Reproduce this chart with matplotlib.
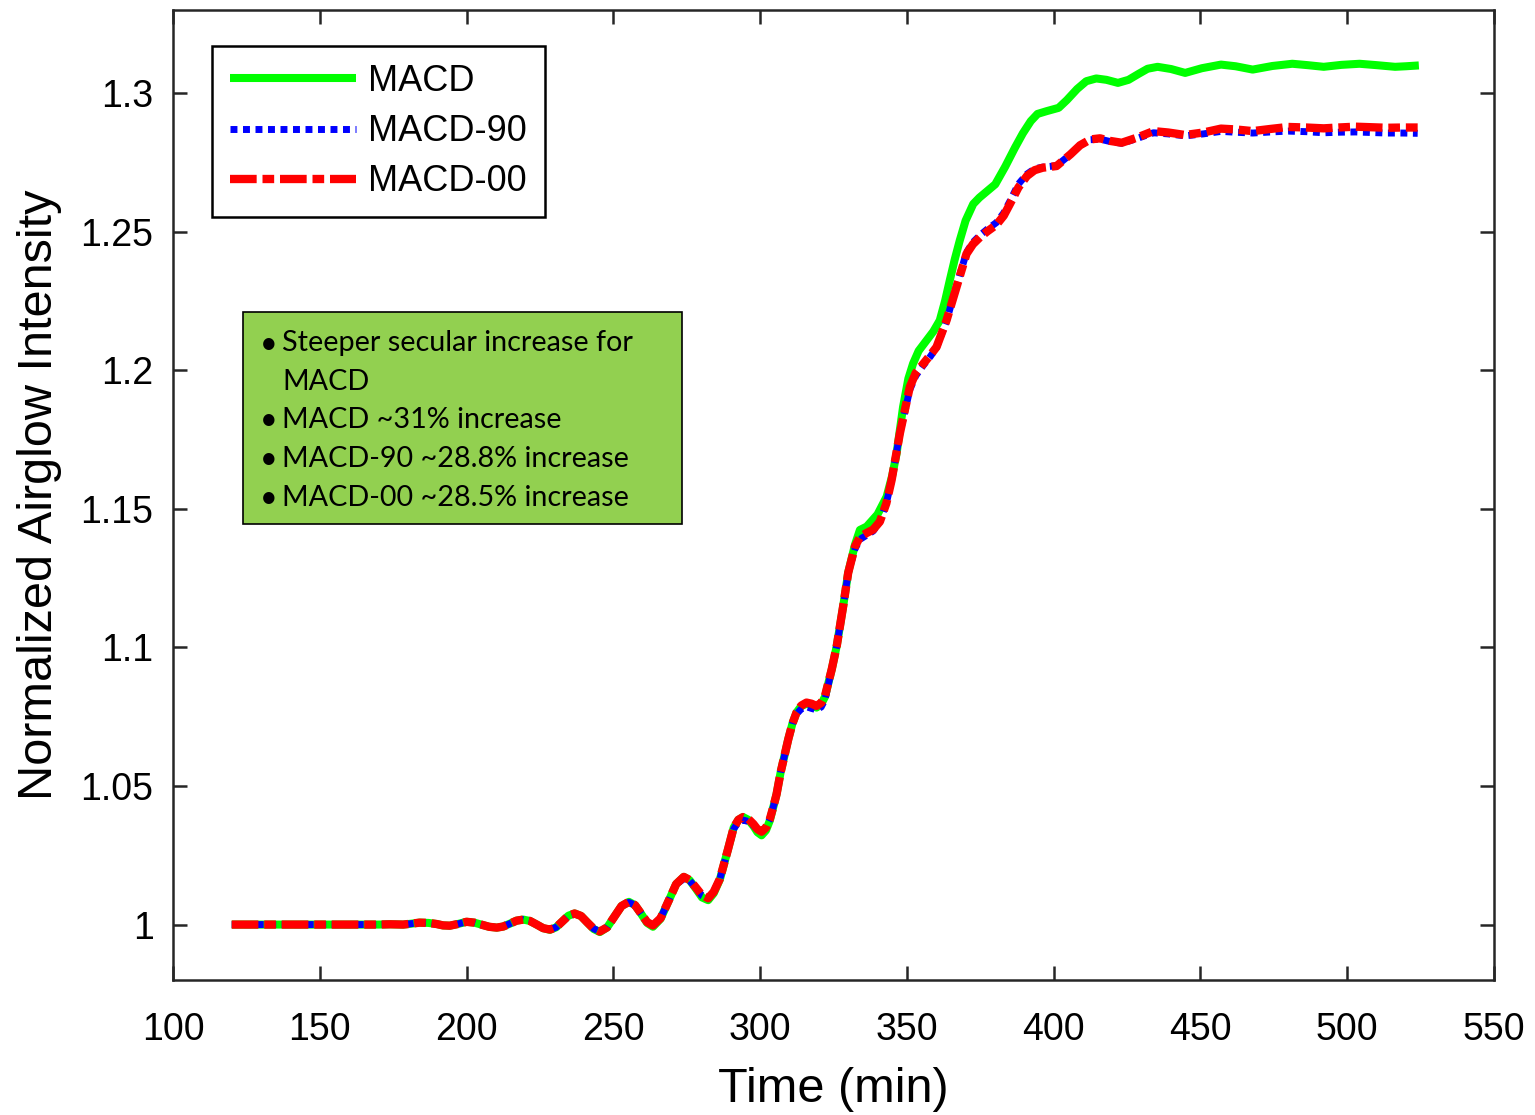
import matplotlib
matplotlib.use("Agg")
import matplotlib.pyplot as plt
from matplotlib.patches import Rectangle

# time (min) and normalized airglow intensity
t_macd00 = [120, 130, 140, 150, 160, 170, 174, 178.4, 181, 184, 187, 189.8, 192, 194.3, 197,
            200, 202.6, 205.2, 207.7, 210.3, 212.5, 214.8, 217, 219.3, 221.6, 223.9, 226.1,
            228.4, 230.5, 232.6, 234.7, 236.8, 239, 241.1, 243.3, 245.4, 247.9, 250.3, 252.8,
            255.3, 257.4, 259.4, 261.5, 263.5, 266.1, 268.8, 271.4, 274, 276, 278.1, 280.2,
            282.3, 284.2, 286.3, 289.1, 291, 292.6, 294.2, 296, 297.7, 299.1, 300.5, 302,
            303.3, 304.5, 305.6, 307, 309.6, 311, 312.4, 314, 315.8, 317.5, 319.2, 320.8,
            322.1, 324.4, 326.1, 328.3, 330, 332.3, 334, 336.3, 338.5, 340.8, 343, 344.8,
            347.6, 351, 353, 355.6, 358, 360.1, 363.5, 366.9, 370.3, 372.5, 374.9, 377.5,
            380.5, 383, 385.1, 388, 390.9, 393.5, 396.3, 401, 405.7, 409, 412.5, 415.8, 419,
            423.2, 428, 434, 439, 444.8, 451, 457, 462, 467.8, 474, 479.9, 486, 492, 497,
            502.8, 508, 513.6, 519, 524]
macd00 = [1.0, 1.0, 1.0, 1.0, 1.0, 1.0, 1.0001, 1.0, 1.0003, 1.0007, 1.0006, 1.0002, 0.9997,
          0.9996, 1.0002, 1.001, 1.0007, 0.99995, 0.9992, 0.9989, 0.9993, 1.00035, 1.0014,
          1.0018, 1.0013, 1.0, 0.9987, 0.9982, 0.999, 1.0011, 1.0032, 1.004, 1.0031, 1.0008,
          0.9985, 0.9975, 0.999, 1.0028, 1.0067, 1.0082, 1.007, 1.004, 1.0009, 0.9997,
          1.0023, 1.0085, 1.0146, 1.0172, 1.0161, 1.0134, 1.0106, 1.0095, 1.0118, 1.0165,
          1.0273, 1.035, 1.0378, 1.0388, 1.0381, 1.0363, 1.0344, 1.0335, 1.035, 1.038,
          1.0425, 1.047, 1.055, 1.0669, 1.0725, 1.0765, 1.079, 1.0801, 1.0797, 1.0789, 1.08,
          1.0825, 1.0921, 1.1005, 1.1149, 1.1269, 1.1364, 1.1398, 1.1413, 1.1425, 1.1454,
          1.152, 1.1604, 1.1772, 1.194, 1.199, 1.2024, 1.2055, 1.2084, 1.218, 1.23, 1.242,
          1.2455, 1.248, 1.2502, 1.2525, 1.2558, 1.26, 1.266, 1.2701, 1.2722, 1.2731, 1.2737,
          1.2779, 1.2812, 1.2833, 1.2837, 1.2828, 1.2821, 1.2838, 1.2863, 1.2858, 1.2849,
          1.2858, 1.2872, 1.2869, 1.2863, 1.2871, 1.2878, 1.2876, 1.2873, 1.2876, 1.2879,
          1.2877, 1.2875, 1.2876, 1.2876]
macd90 = [1.0, 1.0, 1.0, 1.0, 1.0, 1.0, 1.0001, 1.0, 1.0003, 1.0007, 1.0006, 1.0002, 0.9997,
          0.9996, 1.0002, 1.001, 1.0007, 0.99995, 0.9992, 0.9989, 0.9993, 1.00035, 1.0014,
          1.0018, 1.0013, 1.0, 0.9987, 0.9982, 0.999, 1.0011, 1.0032, 1.0039, 1.0031, 1.0008,
          0.9985, 0.9975, 0.999, 1.0028, 1.0067, 1.008, 1.007, 1.004, 1.0009, 0.9997,
          1.0023, 1.0085, 1.0146, 1.0165, 1.0158, 1.0132, 1.0104, 1.0093, 1.0118, 1.0165,
          1.0273, 1.0345, 1.037, 1.0377, 1.0372, 1.0358, 1.0342, 1.0335, 1.035, 1.038,
          1.0425, 1.047, 1.055, 1.0669, 1.0725, 1.076, 1.0778, 1.0786, 1.078, 1.0775, 1.0785,
          1.0812, 1.0921, 1.1005, 1.1149, 1.1269, 1.1355, 1.139, 1.1405, 1.142, 1.1454,
          1.152, 1.1604, 1.1772, 1.193, 1.198, 1.2018, 1.205, 1.2082, 1.2178, 1.2305, 1.2425,
          1.2462, 1.2487, 1.251, 1.2533, 1.2568, 1.261, 1.2672, 1.2708, 1.2727, 1.2733, 1.2738,
          1.2779, 1.2812, 1.2832, 1.2834, 1.2826, 1.2819, 1.2835, 1.2857, 1.2853, 1.2846,
          1.2853, 1.2862, 1.2859, 1.2856, 1.286, 1.2863, 1.2861, 1.2857, 1.2859, 1.286,
          1.2858, 1.2856, 1.2856, 1.2855]
t_macd = [120, 130, 140, 150, 160, 170, 174, 178.4, 181, 184, 187, 189.8, 192, 194.3, 197,
          200, 202.6, 205.2, 207.7, 210.3, 212.5, 214.8, 217, 219.3, 221.6, 223.9, 226.1,
          228.4, 230.5, 232.6, 234.7, 236.8, 239, 241.1, 243.3, 245.4, 247.9, 250.3, 252.8,
          255.3, 257.4, 259.4, 261.5, 263.5, 266.1, 268.8, 271.4, 274, 276, 278.1, 280.2,
          282.3, 284.2, 286.3, 289.1, 291, 292.6, 294.2, 296, 297.7, 299.1, 300.5, 302,
          303.3, 304.5, 305.6, 307, 309.6, 311, 312.4, 314, 315.8, 317.5, 319.2, 320.8,
          322.1, 324.4, 326.1, 328.3, 330, 332.3, 334, 336.3, 340, 343.1, 345, 346.5, 348.7,
          350.5, 352.1, 354, 356.7, 359, 361.2, 363, 364.6, 366.3, 368, 370, 372.6, 374.7,
          377.5, 380.1, 383.5, 386.8, 389.5, 392.2, 394.5, 397.6, 401.7, 404.5, 408, 411.1,
          414.5, 418, 421.9, 425.5, 429, 432, 435.4, 440, 444.8, 450.5, 457, 462, 467.8,
          474.5, 481.3, 486.5, 492, 498, 504.2, 510, 516.3, 520, 524.4]
macd = [1.0, 1.0, 1.0, 1.0, 1.0, 1.0, 1.0001, 1.0, 1.0003, 1.0007, 1.0006, 1.0002, 0.9997,
        0.9996, 1.0002, 1.001, 1.0007, 0.99995, 0.9992, 0.9989, 0.9993, 1.00035, 1.0014,
        1.0018, 1.0013, 1.0, 0.9987, 0.9981, 0.999, 1.0011, 1.0032, 1.004, 1.0031, 1.0008,
        0.9984, 0.9973, 0.999, 1.0028, 1.0067, 1.0082, 1.007, 1.004, 1.0006, 0.9992,
        1.0021, 1.0085, 1.0146, 1.0172, 1.016, 1.013, 1.0098, 1.0088, 1.0113, 1.0163,
        1.0273, 1.035, 1.0378, 1.0388, 1.0378, 1.0356, 1.0333, 1.0322, 1.034, 1.0375,
        1.0425, 1.047, 1.055, 1.0669, 1.0725, 1.0765, 1.0788, 1.0797, 1.0792, 1.0783, 1.0795,
        1.0822, 1.0921, 1.1005, 1.1149, 1.127, 1.137, 1.1424, 1.1436, 1.148, 1.1544, 1.162,
        1.17, 1.1868, 1.197, 1.2024, 1.207, 1.2108, 1.214, 1.218, 1.225, 1.2324, 1.24,
        1.2468, 1.254, 1.26, 1.2623, 1.2648, 1.2671, 1.2735, 1.2803, 1.2855, 1.2899, 1.2925,
        1.2935, 1.2947, 1.2975, 1.3015, 1.3043, 1.3053, 1.3048, 1.3037, 1.3048, 1.307,
        1.3088, 1.3095, 1.3087, 1.3073, 1.309, 1.3103, 1.3097, 1.3085, 1.3098, 1.3106,
        1.3101, 1.3095, 1.3102, 1.3106, 1.3101, 1.3095, 1.3097, 1.31]

notes = ["Steeper secular increase for", "MACD", "MACD ~31% increase",
         "MACD-90 ~28.8% increase", "MACD-00 ~28.5% increase"]
bullets = [True, False, True, True, True]

W, H = 1535, 1115
fig = plt.figure(figsize=(W / 100, H / 100), dpi=100)
ax = fig.add_axes([173 / W, 1 - 980 / H, (1494 - 173) / W, (980 - 10) / H])

ax.plot(t_macd, macd, color='#00ff00', lw=5.8, label='MACD', solid_capstyle='butt')
ax.plot(t_macd00, macd90, color='#0000ff', lw=5.0, linestyle=(0, (1.0, 0.8)),
        label='MACD-90', dash_capstyle='butt')
ax.plot(t_macd00, macd00, color='#ff0000', lw=6.0, linestyle=(0, (3.2, 0.7, 1.4, 0.7)),
        label='MACD-00', dash_capstyle='butt')

ax.set_xlim(100, 550)
ax.set_ylim(0.98, 1.33)
ax.set_xticks(range(100, 551, 50))
yt = [1.0, 1.05, 1.1, 1.15, 1.2, 1.25, 1.3]
ax.set_yticks(yt)
ax.set_yticklabels(['1', '1.05', '1.1', '1.15', '1.2', '1.25', '1.3'])

font = 'Liberation Sans'
for lab in ax.get_xticklabels() + ax.get_yticklabels():
    lab.set_family(font)
ax.tick_params(direction='in', length=10, width=1.8, color='#262626', labelsize=27,
               top=True, right=True, labelcolor='black')
ax.tick_params(axis='x', pad=23)
ax.tick_params(axis='y', pad=14)
for s in ax.spines.values():
    s.set_linewidth(1.8)
    s.set_color('#262626')

ax.set_xlabel('Time (min)', fontsize=35, family=font, labelpad=14)
ax.set_ylabel('Normalized Airglow Intensity', fontsize=35, family=font, labelpad=13)

leg = ax.legend(loc='upper left', bbox_to_anchor=(212 / W, 1 - 46 / H), bbox_transform=fig.transFigure,
                prop={'family': font, 'size': 26}, handlelength=3.5, handletextpad=0.33,
                labelspacing=0.42, borderpad=0.5, borderaxespad=0, fancybox=False,
                framealpha=1, edgecolor='black')
leg.get_frame().set_linewidth(1.8)

# annotation box
ax.add_patch(Rectangle((243 / W, 1 - 524 / H), (682 - 243) / W, (524 - 312) / H,
                       transform=fig.transFigure, facecolor='#92d050', edgecolor='black',
                       lw=1.2, zorder=5))
for i, (line, b) in enumerate(zip(notes, bullets)):
    y = 1 - (343.5 + i * 38.5) / H
    if b:
        fig.text(260 / W, y, '\u2022', fontsize=22, family='Lato', va='center', zorder=6)
    fig.text(282 / W, y, line, fontsize=20.7, family='Lato', va='center', zorder=6)

fig.savefig('out.png', dpi=100)
